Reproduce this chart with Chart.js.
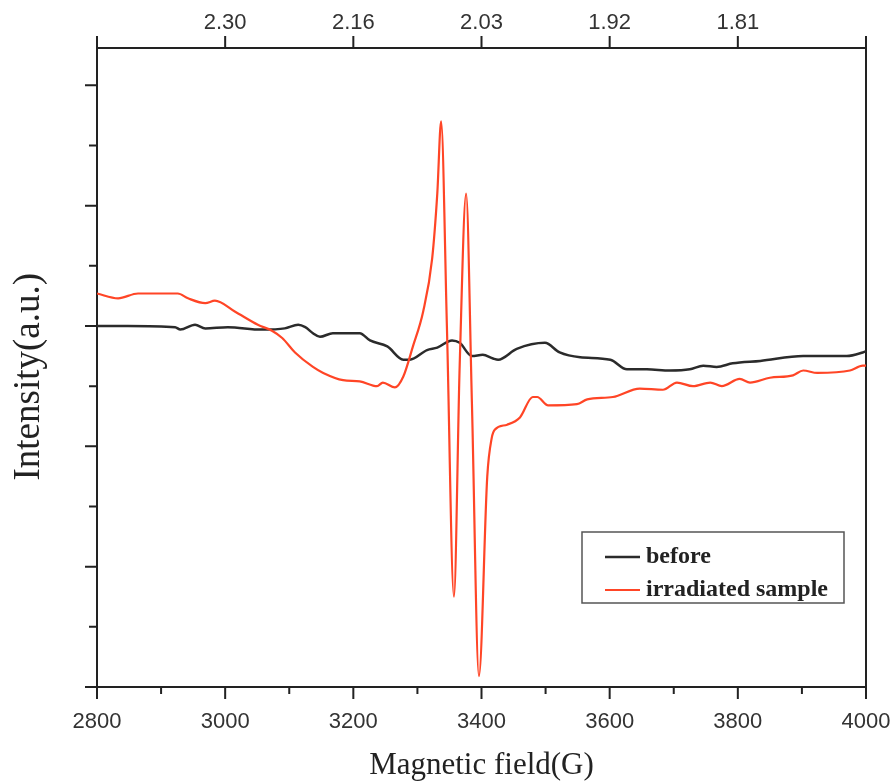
<!DOCTYPE html>
<html>
<head>
<meta charset="utf-8">
<script src="https://cdn.jsdelivr.net/npm/chart.js@4.4.1/dist/chart.umd.min.js"></script>
<style>
    html, body { margin: 0; padding: 0; background: #fff; }
</style>
</head>
<body>
<canvas id="eprChart" width="894" height="784"></canvas>
<script>
(() => {
    'use strict';

    // Spectrum before irradiation (field in G, intensity in a.u.)
    const fieldBefore = [2800, 2848, 2922, 2930, 2953, 2969, 3004, 3057, 3093, 3114,
        3125, 3137, 3148, 3168, 3210, 3226, 3253, 3278, 3288, 3315,
        3331, 3354, 3366, 3385, 3402, 3418, 3426, 3455, 3499, 3522,
        3554, 3601, 3627, 3658, 3694, 3725, 3746, 3767, 3792, 3835,
        3902, 3970, 3995, 4000];
    const before = [0, 0, -0.01, -0.03, 0.01, -0.02, -0.01, -0.03, -0.02, 0.01,
        -0.01, -0.06, -0.09, -0.06, -0.06, -0.12, -0.17, -0.28, -0.28, -0.2,
        -0.18, -0.12, -0.14, -0.25, -0.24, -0.27, -0.28, -0.19, -0.14, -0.22,
        -0.26, -0.28, -0.36, -0.36, -0.37, -0.36, -0.33, -0.34, -0.31, -0.29,
        -0.25, -0.25, -0.22, -0.21];

    // Spectrum of the irradiated sample
    const fieldIrradiated = [2800, 2833, 2864, 2926, 2942, 2969, 2984, 3015, 3051, 3073,
        3089, 3109, 3137, 3153, 3184, 3210, 3237, 3246, 3265, 3278,
        3293, 3309, 3323, 3331, 3337, 3346, 3357, 3366, 3376, 3385,
        3396, 3409, 3416, 3421, 3440, 3460, 3480, 3487, 3504, 3549,
        3565, 3605, 3647, 3683, 3705, 3730, 3757, 3775, 3803, 3819,
        3850, 3886, 3902, 3924, 3975, 3995, 4000];
    const irradiated = [0.27, 0.23, 0.27, 0.27, 0.23, 0.19, 0.21, 0.12, 0.01, -0.04,
        -0.1, -0.22, -0.34, -0.39, -0.45, -0.46, -0.5, -0.47, -0.51, -0.42,
        -0.17, 0.12, 0.56, 1.1, 1.7, 0, -2.25, -0.32, 1.1, -0.63,
        -2.91, -1.25, -0.93, -0.86, -0.82, -0.76, -0.59, -0.59, -0.66, -0.65,
        -0.61, -0.59, -0.52, -0.53, -0.47, -0.5, -0.47, -0.5, -0.44, -0.47,
        -0.43, -0.41, -0.37, -0.39, -0.37, -0.33, -0.33];

    // Top axis: g-factor labels at these field positions
    const gTicks = [3000, 3200, 3400, 3600, 3800];
    const gLabels = ['2.30', '2.16', '2.03', '1.92', '1.81'];

    const axisColor = '#222';
    const tickFont = { family: 'Liberation Sans', size: 22 };

    const toPoints = (xs, ys) => xs.map((x, i) => ({ x, y: ys[i] }));

    // Outward tick marks (major + minor) drawn from each scale's own ticks
    const tickMarks = {
        id: 'tickMarks',
        afterDraw(chart) {
            const { ctx, chartArea: a, scales } = chart;
            ctx.save();
            ctx.strokeStyle = axisColor;
            ctx.lineWidth = 2;
            ctx.beginPath();

            scales.x.ticks.forEach(t => {
                const px = scales.x.getPixelForValue(t.value);
                const len = t.value % 200 === 0 ? 12 : 7;
                ctx.moveTo(px, a.bottom);
                ctx.lineTo(px, a.bottom + len);
            });

            scales.x2.ticks.forEach(t => {
                const px = scales.x2.getPixelForValue(t.value);
                ctx.moveTo(px, a.top);
                ctx.lineTo(px, a.top - 12);
            });

            scales.y.ticks.forEach(t => {
                const v = t.value;
                if (!Number.isInteger(Math.round(v * 2 * 1000) / 1000)) return;
                const py = scales.y.getPixelForValue(v);
                const len = Number.isInteger(v) ? 12 : 8;
                ctx.moveTo(a.left, py);
                ctx.lineTo(a.left - len, py);
            });

            ctx.stroke();
            ctx.restore();
        }
    };

    // Boxed legend inside the plot, lower right
    const boxLegend = {
        id: 'boxLegend',
        afterDraw(chart) {
            const { ctx, chartArea: a } = chart;
            const x0 = a.right - 284;
            const y0 = a.bottom - 155;
            ctx.save();
            ctx.strokeStyle = '#555';
            ctx.lineWidth = 1.5;
            ctx.strokeRect(x0, y0, 262, 71);

            ctx.font = 'bold 24px "Liberation Serif"';
            ctx.textBaseline = 'middle';
            ctx.fillStyle = '#222';
            chart.data.datasets.forEach((ds, i) => {
                const cy = y0 + 25 + i * 33;
                ctx.strokeStyle = ds.borderColor;
                ctx.lineWidth = ds.borderWidth;
                ctx.beginPath();
                ctx.moveTo(x0 + 23, cy);
                ctx.lineTo(x0 + 58, cy);
                ctx.stroke();
                ctx.fillText(ds.label, x0 + 64, cy);
            });
            ctx.restore();
        }
    };

    const border = { display: true, color: axisColor, width: 2 };

    // keep the plot box fixed: no extra room for the end labels
    const noEdgePadding = scale => {
        scale.paddingLeft = 0;
        scale.paddingRight = 0;
    };

    new Chart(document.getElementById('eprChart'), {
        type: 'line',
        data: {
            datasets: [{
                label: 'before',
                data: toPoints(fieldBefore, before),
                borderColor: '#2b2b2b',
                borderWidth: 2.5,
                order: 1
            }, {
                label: 'irradiated sample',
                data: toPoints(fieldIrradiated, irradiated),
                borderColor: '#ff4526',
                borderWidth: 2.2,
                order: 0
            }]
        },
        options: {
            responsive: false,
            animation: false,
            devicePixelRatio: 1,
            layout: { padding: 0 },
            elements: {
                point: { radius: 0 },
                line: { cubicInterpolationMode: 'monotone', fill: false }
            },
            plugins: {
                legend: { display: false },
                tooltip: { enabled: false }
            },
            scales: {
                x: {
                    type: 'linear',
                    position: 'bottom',
                    min: 2800,
                    max: 4000,
                    grid: { display: false },
                    border,
                    ticks: {
                        stepSize: 100,
                        autoSkip: false,
                        maxRotation: 0,
                        padding: 14,
                        color: '#333',
                        font: tickFont,
                        callback: v => (v % 200 === 0 ? String(v) : '')
                    },
                    title: {
                        display: true,
                        text: 'Magnetic field(G)',
                        color: '#222',
                        font: { family: 'Liberation Serif', size: 31 },
                        padding: { top: 0, bottom: 0 }
                    },
                    afterFit(scale) {
                        scale.height = 97;
                        noEdgePadding(scale);
                    }
                },
                x2: {
                    type: 'linear',
                    position: 'top',
                    min: 2800,
                    max: 4000,
                    grid: { display: false },
                    border,
                    ticks: {
                        stepSize: 200,
                        autoSkip: false,
                        maxRotation: 0,
                        padding: 4,
                        color: '#333',
                        font: tickFont,
                        callback: v => {
                            const i = gTicks.indexOf(v);
                            return i < 0 ? '' : gLabels[i];
                        }
                    },
                    afterFit(scale) {
                        scale.height = 48;
                        noEdgePadding(scale);
                    }
                },
                y: {
                    type: 'linear',
                    position: 'left',
                    min: -3,
                    max: 2.31,
                    grid: { display: false },
                    border,
                    ticks: { display: false, stepSize: 0.5 },
                    title: {
                        display: true,
                        // trailing spaces nudge the visible text a little lower
                        text: 'Intensity(a.u.)  ',
                        color: '#222',
                        font: { family: 'Liberation Serif', size: 37 },
                        padding: { top: 7, bottom: 0 }
                    },
                    afterFit(scale) { scale.width = 97; }
                },
                y2: {
                    type: 'linear',
                    position: 'right',
                    min: -3,
                    max: 2.31,
                    grid: { display: false },
                    border,
                    ticks: { display: false },
                    afterFit(scale) { scale.width = 28; }
                }
            }
        },
        plugins: [tickMarks, boxLegend]
    });
})();
</script>
</body>
</html>
